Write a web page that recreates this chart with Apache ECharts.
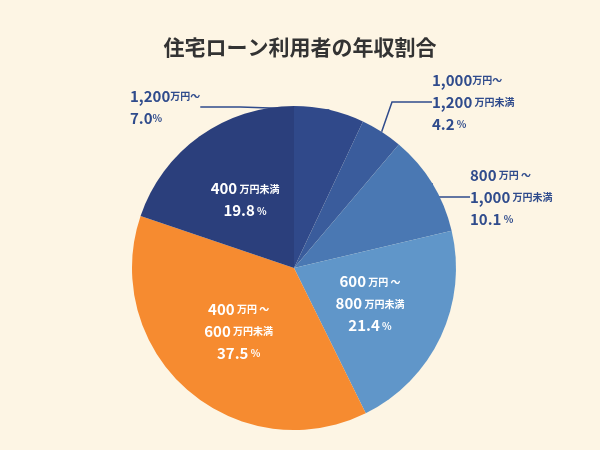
<!DOCTYPE html>
<html><head><meta charset="utf-8">
<script src="https://cdn.jsdelivr.net/npm/echarts@6/dist/echarts.min.js"></script>
<style>html,body{margin:0;background:#fdf5e4;}#chart{width:600px;height:450px;}</style>
</head><body><div id="chart"></div>
<script>
var names=['1,200万円～','1,000万円～1,200万円未満','800万円～1,000万円未満','600万円～800万円未満','400万円～600万円未満','400万円未満'];
var values=[7.0,4.2,10.1,21.4,37.5,19.8];
var colors=['#30498a','#3a5c9c','#4a78b3','#6096c9','#f68b30','#2b3f7c'];
var labelTexts=[
  '{n|1,200}{u|万円～}\n{n|7.0}{u|%}',
  '{n|1,000}{u|万円～}\n{n|1,200}{u| 万円未満}\n{n|4.2}{u| %}',
  '{n|800}{u| 万円 ～}\n{n|1,000}{u| 万円未満}\n{n|10.1}{u| %}',
  '{n|600}{u| 万円 ～}\n{n|800}{u| 万円未満}\n{n|21.4}{u| %}',
  '{n|400}{u| 万円 ～}\n{n|600}{u| 万円未満}\n{n|37.5}{u| %}',
  '{n|400}{u| 万円未満}\n{n|19.8}{u| %}'
];
var outerPos={0:[130,107],1:[432,102],2:[470,197]};
var chart=echarts.init(document.getElementById('chart'));
var data=[];
for(var i=0;i<values.length;i++){
  var outer=i<3;
  var c=outer?'#2f4b8c':'#fff';
  data.push({
    name:names[i],value:values[i],itemStyle:{color:colors[i]},
    label:{
      position:outer?'outside':'inside',
      formatter:labelTexts[i],
      align:outer?'left':'center',
      overflow:'none',
      alignTo:'none',
      rich:{n:{fontSize:15,fontWeight:'bold',color:c,lineHeight:22},u:{fontSize:10,fontWeight:'bold',color:c,lineHeight:22}}
    },
    labelLine:{show:outer,length:20,length2:40,lineStyle:{color:'#2f4b8c',width:1.5}}
  });
}
chart.setOption({
  backgroundColor:'#fdf5e4',
  title:{text:'住宅ローン利用者の年収割合',left:'center',top:32,textStyle:{fontSize:21,fontWeight:'bold',color:'#333',fontFamily:'Noto Sans CJK JP'}},
  textStyle:{fontFamily:'Noto Sans CJK JP'},
  series:[{
    type:'pie',center:[294,268],radius:[0,162],startAngle:90,
    data:data,
    labelLayout:function(p){
      var pos=outerPos[p.dataIndex];
      if(!pos) return {};
      return {x:pos[0],y:pos[1],align:'left',verticalAlign:'middle'};
    }
  }]
});
</script></body></html>
